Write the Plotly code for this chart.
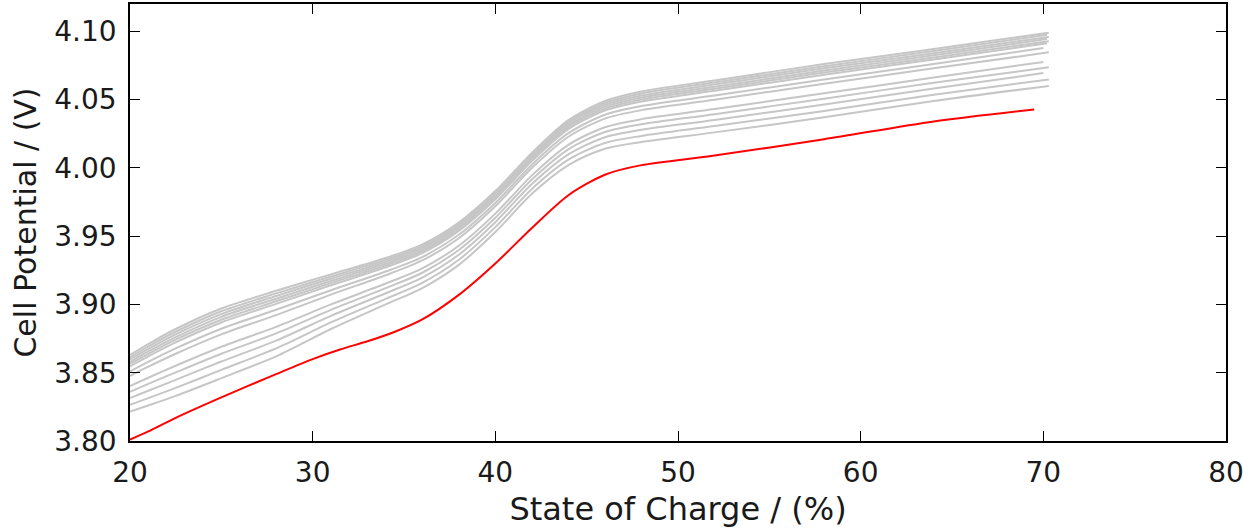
import plotly.graph_objects as go

# --- data ---
# shared state-of-charge grid (%) for the grey curves, last point varies per curve
SOC_GRID = [20, 21, 22.5, 25, 28, 31, 34, 36, 38, 40, 42, 44, 46, 48, 52, 58, 64, 70]
GRAY_END_SOC = [70.3, 70.2, 70.3, 70.2, 70.3, 70.2, 70.0, 70.3, 70.0, 70.3, 70.0, 70.3, 70.3]

# grey curves, top to bottom (V)
GRAY_01 = [3.8630, 3.8710, 3.8820, 3.8970, 3.9100, 3.9220, 3.9340, 3.9440, 3.9600, 3.9830, 4.0110, 4.0350, 4.0490, 4.0560, 4.0640, 4.0760, 4.0870, 4.0990]
GRAY_02 = [3.8613, 3.8692, 3.8800, 3.8950, 3.9081, 3.9204, 3.9326, 3.9427, 3.9588, 3.9818, 4.0098, 4.0337, 4.0476, 4.0545, 4.0625, 4.0744, 4.0855, 4.0974]
GRAY_03 = [3.8597, 3.8674, 3.8781, 3.8929, 3.9062, 3.9188, 3.9313, 3.9414, 3.9575, 3.9806, 4.0086, 4.0324, 4.0462, 4.0530, 4.0610, 4.0729, 4.0840, 4.0959]
GRAY_04 = [3.8580, 3.8656, 3.8761, 3.8909, 3.9042, 3.9172, 3.9299, 3.9402, 3.9563, 3.9794, 4.0074, 4.0310, 4.0448, 4.0516, 4.0594, 4.0713, 4.0824, 4.0943]
GRAY_05 = [3.8564, 3.8638, 3.8742, 3.8888, 3.9023, 3.9156, 3.9286, 3.9389, 3.9550, 3.9782, 4.0062, 4.0297, 4.0434, 4.0501, 4.0579, 4.0698, 4.0809, 4.0928]
GRAY_06 = [3.8547, 3.8620, 3.8722, 3.8868, 3.9004, 3.9140, 3.9272, 3.9376, 3.9538, 3.9770, 4.0050, 4.0284, 4.0420, 4.0486, 4.0564, 4.0682, 4.0794, 4.0912]
GRAY_07 = [3.8510, 3.8580, 3.8678, 3.8822, 3.8961, 3.9104, 3.9241, 3.9347, 3.9510, 3.9743, 4.0023, 4.0254, 4.0389, 4.0453, 4.0530, 4.0647, 4.0760, 4.0877]
GRAY_08 = [3.8476, 3.8544, 3.8639, 3.8781, 3.8922, 3.9072, 3.9214, 3.9322, 3.9485, 3.9719, 3.9999, 4.0228, 4.0361, 4.0423, 4.0499, 4.0616, 4.0729, 4.0846]
GRAY_09 = [3.8402, 3.8463, 3.8551, 3.8690, 3.8836, 3.9000, 3.9153, 3.9264, 3.9430, 3.9665, 3.9945, 4.0169, 4.0298, 4.0357, 4.0431, 4.0546, 4.0661, 4.0776]
GRAY_10 = [3.8360, 3.8418, 3.8502, 3.8639, 3.8788, 3.8960, 3.9119, 3.9232, 3.9399, 3.9635, 3.9915, 4.0136, 4.0263, 4.0320, 4.0393, 4.0507, 4.0623, 4.0737]
GRAY_11 = [3.8315, 3.8368, 3.8448, 3.8582, 3.8735, 3.8916, 3.9082, 3.9197, 3.9364, 3.9602, 3.9882, 4.0099, 4.0224, 4.0279, 4.0351, 4.0464, 4.0581, 4.0694]
GRAY_12 = [3.8265, 3.8314, 3.8389, 3.8521, 3.8678, 3.8868, 3.9041, 3.9158, 3.9327, 3.9566, 3.9846, 4.0060, 4.0182, 4.0234, 4.0306, 4.0417, 4.0536, 4.0647]
GRAY_13 = [3.8215, 3.8260, 3.8330, 3.8460, 3.8620, 3.8820, 3.9000, 3.9120, 3.9290, 3.9530, 3.9810, 4.0020, 4.0140, 4.0190, 4.0260, 4.0370, 4.0490, 4.0600]

GRAY_CURVES = [GRAY_01, GRAY_02, GRAY_03, GRAY_04, GRAY_05, GRAY_06, GRAY_07,
               GRAY_08, GRAY_09, GRAY_10, GRAY_11, GRAY_12, GRAY_13]

# highlighted (red) curve
RED_SOC = [20, 21, 22.5, 25, 28, 30, 31.5, 33, 34.5, 36, 38, 40, 42, 44, 46, 48, 52, 58, 64, 69.5]
RED_V = [3.801, 3.807, 3.817, 3.832, 3.849, 3.860, 3.867, 3.873, 3.880, 3.889, 3.907, 3.930, 3.956, 3.980, 3.995, 4.002, 4.009, 4.021, 4.034, 4.0428]

X_TICKS = [20, 30, 40, 50, 60, 70, 80]
Y_TICKS = [3.80, 3.85, 3.90, 3.95, 4.00, 4.05, 4.10]

FONT = "DejaVu Sans"
TEXT_COLOR = "#1a1a1a"
GREY = "#c6c6c6"

fig = go.Figure()

# grey background curves
for curve, end in zip(GRAY_CURVES, GRAY_END_SOC):
    fig.add_trace(go.Scatter(
        x=SOC_GRID[:-1] + [end], y=curve, mode="lines",
        line=dict(color=GREY, width=2, shape="spline", smoothing=0.8),
        hoverinfo="skip", showlegend=False,
    ))

# red curve on top
fig.add_trace(go.Scatter(
    x=RED_SOC, y=RED_V, mode="lines",
    line=dict(color="#ff0000", width=2, shape="spline", smoothing=0.8),
    showlegend=False,
))

axis_style = dict(
    showline=True, linecolor="black", linewidth=1.5, mirror="ticks",
    ticks="inside", ticklen=10, tickwidth=1, tickcolor="black",
    showgrid=False, zeroline=False, automargin=False,
    ticklabeloverflow="allow",
    tickfont=dict(family=FONT, size=28, color=TEXT_COLOR),
)

fig.update_xaxes(
    range=[20, 80], tickvals=X_TICKS, ticktext=[str(v) for v in X_TICKS],
    ticklabelstandoff=6,
    title=dict(text="State of Charge / (%)", font=dict(family=FONT, size=32, color=TEXT_COLOR), standoff=11),
    **axis_style,
)
fig.update_yaxes(
    range=[3.80, 4.12], tickvals=Y_TICKS, ticktext=[f"{v:.2f}" for v in Y_TICKS],
    ticklabelstandoff=6,
    title=dict(text="Cell Potential / (V)", font=dict(family=FONT, size=30, color=TEXT_COLOR), standoff=9),
    **axis_style,
)

fig.update_layout(
    width=1243, height=528,
    margin=dict(l=130, r=17, t=4, b=87),
    plot_bgcolor="white", paper_bgcolor="white",
    font=dict(family=FONT),
)

# drop the default page margin so the figure sits at the window corner
fig.write_html("out.html", config={"displayModeBar": False},
               post_script="document.body.style.margin = '0px';")
